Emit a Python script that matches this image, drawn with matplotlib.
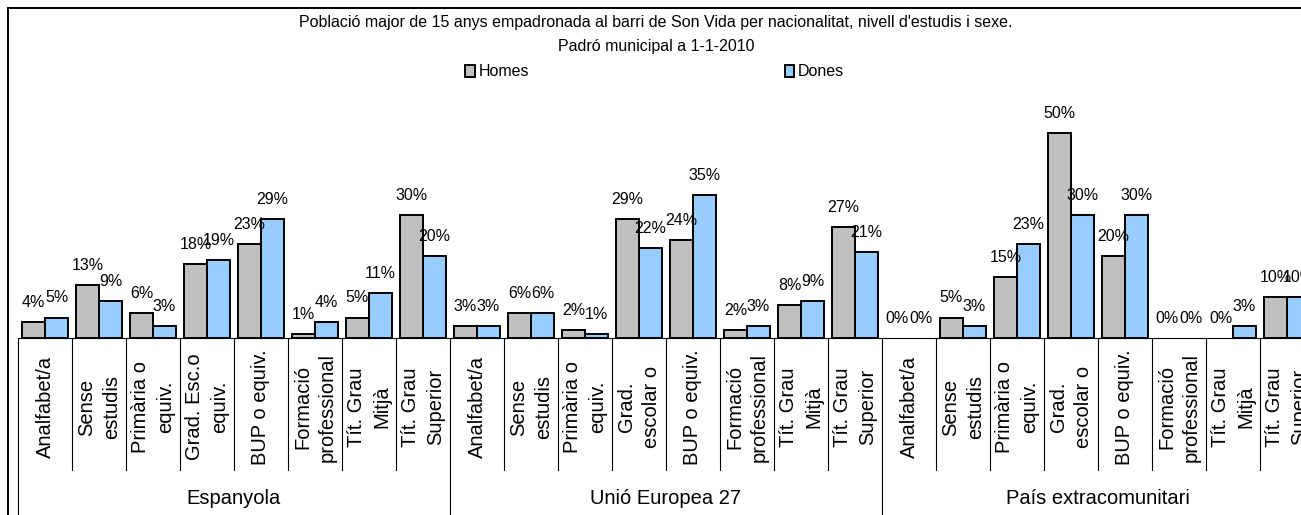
import matplotlib
matplotlib.use('Agg')
import matplotlib.pyplot as plt
from matplotlib.patches import Rectangle
import numpy as np

plt.rcParams['font.family'] = ['Liberation Sans', 'DejaVu Sans']

# data (percent)
groups = ['Espanyola', 'Unió Europea 27', 'País extracomunitari']
cats_esp = ['Analfabet/a', 'Sense\nestudis', 'Primària o\nequiv.', 'Grad. Esc.o\nequiv.',
            'BUP o equiv.', 'Formació\nprofessional', 'Tít. Grau\nMitjà', 'Tít. Grau\nSuperior']
cats_other = ['Analfabet/a', 'Sense\nestudis', 'Primària o\nequiv.', 'Grad.\nescolar o',
              'BUP o equiv.', 'Formació\nprofessional', 'Tít. Grau\nMitjà', 'Tít. Grau\nSuperior']
homes_esp = [4, 13, 6, 18, 23, 1, 5, 30]
dones_esp = [5, 9, 3, 19, 29, 4, 11, 20]
homes_ue = [3, 6, 2, 29, 24, 2, 8, 27]
dones_ue = [3, 6, 1, 22, 35, 3, 9, 21]
homes_ext = [0, 5, 15, 50, 20, 0, 0, 10]
dones_ext = [0, 3, 23, 30, 30, 0, 3, 10]

labels = cats_esp + cats_other + cats_other
homes = homes_esp + homes_ue + homes_ext
dones = dones_esp + dones_ue + dones_ext

W, H = 1301, 515
fig = plt.figure(figsize=(W / 100, H / 100), dpi=100)

# axes in pixel terms: left 18, baseline 338, 54 px per category
base_px, top_px = 338, 92
ax = fig.add_axes([18 / W, (H - base_px) / H, 1296 / W, (base_px - top_px) / H])
ax.set_xlim(-0.5, len(labels) - 0.5)
ax.set_ylim(0, 60)

x = np.arange(len(labels))
w = 23 / 54
b1 = ax.bar(x - w / 2, homes, w, color='#C0C0C0', edgecolor='black', linewidth=1.4, label='Homes')
b2 = ax.bar(x + w / 2, dones, w, color='#99CCFF', edgecolor='black', linewidth=1.4, label='Dones')

for bars in (b1, b2):
    for rect in bars:
        v = rect.get_height()
        if v == 0:
            rect.set_visible(False)
        ax.annotate(f'{v:g}%', (rect.get_x() + rect.get_width() / 2, v),
                    xytext=(0, 10.8), textcoords='offset points',
                    ha='center', va='baseline', fontsize=11.5, annotation_clip=False)

for s in ['top', 'left', 'right']:
    ax.spines[s].set_visible(False)
ax.spines['bottom'].set_linewidth(0.8)
ax.set_yticks([])
ax.set_xticks([])

# category separators and group separators below the axis
tr = ax.get_xaxis_transform()
frac = lambda px: (base_px - px) / (base_px - top_px)
for i in range(len(labels) + 1):
    edge = i - 0.5
    y_end = frac(520) if i % 8 == 0 else frac(470)
    ax.plot([edge, edge], [0, y_end], color='black', lw=0.8, transform=tr, clip_on=False)

for i, lab in enumerate(labels):
    ax.text(i, frac(407), lab, transform=tr, rotation=90, ha='center', va='center',
            multialignment='center', fontsize=14.5, linespacing=1.4)

for g, name in enumerate(groups):
    ax.text(g * 8 + 3.5, frac(499), name, transform=tr, ha='center', va='center', fontsize=14.5)

# titles
fig.text(656 / W, 1 - 23 / H, "Població major de 15 anys empadronada al barri de Son Vida per nacionalitat, nivell d'estudis i sexe.",
         ha='center', va='center', fontsize=11.5)
fig.text(656 / W, 1 - 47 / H, 'Padró municipal a 1-1-2010', ha='center', va='center', fontsize=11.5)

fig.legend(handles=[b1, b2], loc='center left', bbox_to_anchor=(465 / W, 1 - 72 / H),
           ncol=2, frameon=False, fontsize=11.5, handlelength=0.6, handleheight=0.7,
           handletextpad=0.25, columnspacing=16.0, borderpad=0, borderaxespad=0)

# outer chart frame
fig.patches.append(Rectangle((8 / W, -0.1), 2, 1.1 - 8 / H, transform=fig.transFigure,
                             fill=False, edgecolor='black', lw=1.4))

fig.savefig('out.png', dpi=100)
